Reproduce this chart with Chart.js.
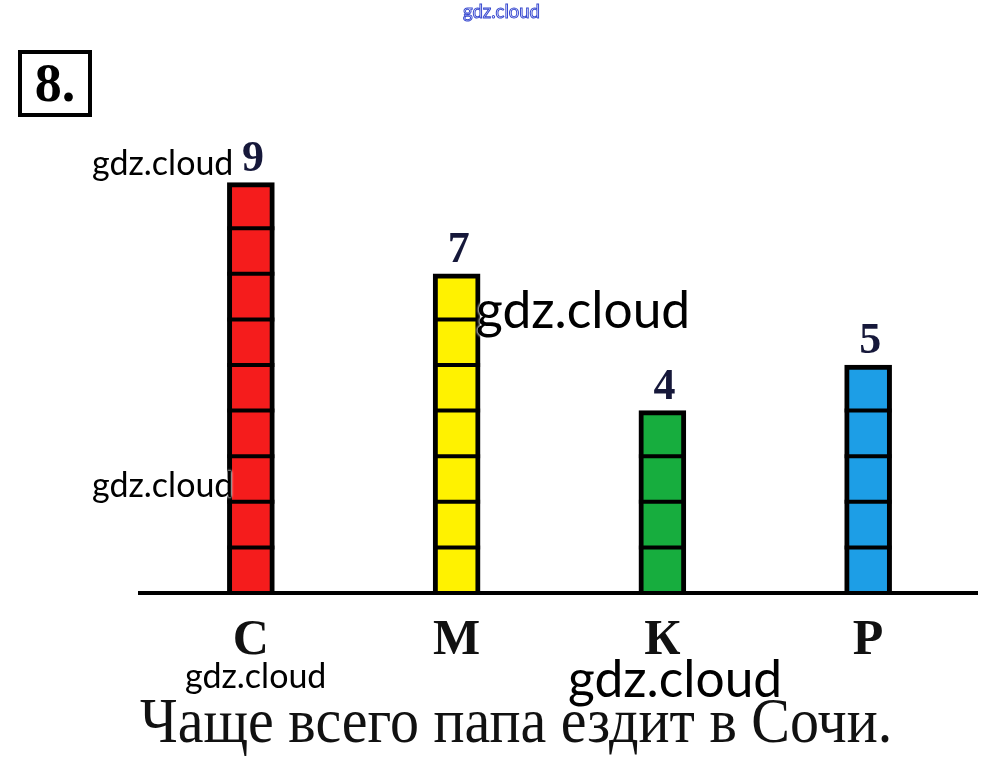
<html><head><title>8. Чаще всего папа ездит в Сочи</title>
<script src="https://cdn.jsdelivr.net/npm/chart.js"></script>
<style>
    body {
        margin: 0;
        background: #fff;
        width: 1001px;
        height: 761px;
        overflow: hidden;
        position: relative;
    }
    #chart-container {
        position: absolute;
        left: 0;
        top: 0;
        width: 1001px;
        height: 761px;
    }
    .num-box {
        position: absolute;
        left: 18px;
        top: 50px;
        width: 66px;
        height: 59px;
        border: 4px solid #000;
        font-family: "Liberation Serif", serif;
        font-weight: bold;
        font-size: 54px;
        line-height: 59px;
        text-align: center;
        color: #000;
    }
    .answer {
        position: absolute;
        left: 140px;
        top: 688px;
        font-family: "Liberation Serif", serif;
        font-size: 58px;
        line-height: 66px;
        color: #111;
        white-space: nowrap;
        transform-origin: left center;
        transform: scaleY(1.08);
    }
    .wm {
        position: absolute;
        font-family: Lato, sans-serif;
        color: #000;
        white-space: nowrap;
        text-shadow: 0 0 3px #fff, 0 0 3px #fff;
    }
</style>
</head>
<body>
    <div id="chart-container">
        <canvas id="barChart"></canvas>
    </div>
    <div class="num-box">8.</div>
    <div class="answer">Чаще всего папа ездит в Сочи.</div>
    <div class="wm" style="left:463px;top:0px;font-size:18.5px;color:#fff;-webkit-text-stroke:1px #3a4bd0;text-shadow:none;">gdz.cloud</div>
    <div class="wm" style="left:92px;top:141px;font-size:34px;">gdz.cloud</div>
    <div class="wm" style="left:476px;top:277px;font-size:51.5px;">gdz.cloud</div>
    <div class="wm" style="left:92px;top:463px;font-size:34px;">gdz.cloud</div>
    <div class="wm" style="left:185px;top:654px;font-size:34px;">gdz.cloud</div>
    <div class="wm" style="left:568px;top:646px;font-size:51.5px;">gdz.cloud</div>

    <script>
    const cities = ['С', 'М', 'К', 'Р'];
    const trips = [9, 7, 4, 5];
    const barColors = ['#f51c1c', '#fff200', '#17ad3e', '#1d9ee6'];

    // horizontal black lines splitting each bar into unit cells + the value above it
    const cellPlugin = {
        id: 'cells',
        afterDatasetsDraw(chart) {
            const ctx = chart.ctx;
            const y = chart.scales.y;
            const meta = chart.getDatasetMeta(0);
            ctx.save();
            ctx.strokeStyle = '#000';
            ctx.lineWidth = 4;
            meta.data.forEach((bar, i) => {
                const left = bar.x - bar.width / 2;
                const right = bar.x + bar.width / 2;
                for (let k = 1; k < trips[i]; k++) {
                    const py = y.getPixelForValue(k);
                    ctx.beginPath();
                    ctx.moveTo(left, py);
                    ctx.lineTo(right, py);
                    ctx.stroke();
                }
                ctx.fillStyle = '#16183a';
                ctx.font = 'bold 44px "Liberation Serif"';
                ctx.textAlign = 'center';
                ctx.textBaseline = 'bottom';
                ctx.fillText(String(trips[i]), bar.x + 2, bar.y - 1);
            });
            // base line
            const area = chart.chartArea;
            ctx.lineWidth = 4;
            ctx.beginPath();
            ctx.moveTo(area.left - 10, area.bottom);
            ctx.lineTo(area.right + 7, area.bottom);
            ctx.stroke();
            ctx.restore();
        }
    };

    const ctx = document.getElementById('barChart').getContext('2d');
    new Chart(ctx, {
        type: 'bar',
        data: {
            labels: cities,
            datasets: [{
                data: trips,
                backgroundColor: barColors,
                borderColor: '#000',
                borderWidth: 5,
                borderSkipped: 'start',
                barThickness: 47
            }]
        },
        options: {
            responsive: true,
            maintainAspectRatio: false,
            animation: false,
            layout: {
                padding: { left: 148, right: 30, top: 137, bottom: 72 }
            },
            plugins: {
                legend: { display: false },
                tooltip: { enabled: false }
            },
            scales: {
                x: {
                    grid: { display: false, drawTicks: false },
                    border: { display: false },
                    ticks: {
                        color: '#111',
                        padding: 18,
                        font: { family: 'Liberation Serif', size: 50, weight: 'bold' }
                    }
                },
                y: {
                    display: false,
                    min: 0,
                    max: 10
                }
            }
        },
        plugins: [cellPlugin]
    });
    </script>
</body>
</html>
